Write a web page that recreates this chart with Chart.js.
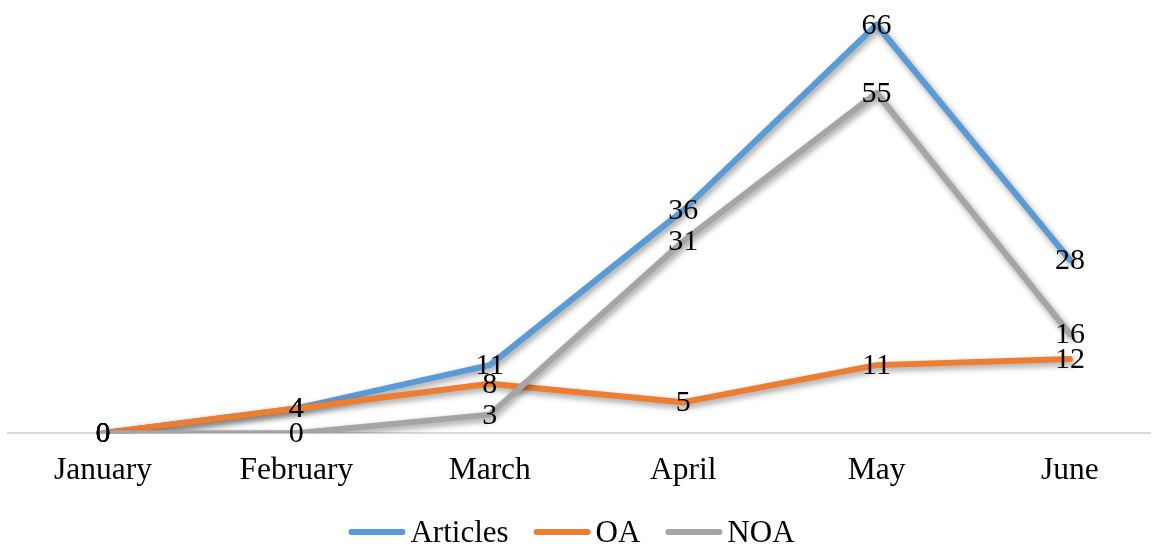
<!DOCTYPE html>
<html>
<head>
<meta charset="utf-8">
<script src="https://cdn.jsdelivr.net/npm/chart.js@4/dist/chart.umd.min.js"></script>
<style>
html,body{margin:0;padding:0;background:#fff;}
#wrap{width:1153px;height:544px;position:relative;}
</style>
</head>
<body>
<div id="wrap"><canvas id="c" width="1153" height="544"></canvas></div>
<script>
const categories = ['January', 'February', 'March', 'April', 'May', 'June'];
const articles = [0, 4, 11, 36, 66, 28];
const oa = [0, 4, 8, 5, 11, 12];
const noa = [0, 0, 3, 31, 55, 16];
const seriesNames = ['Articles', 'OA', 'NOA'];
const colors = ['#5B9BD5', '#ED7D31', '#A5A5A5'];

const FONT = "'Liberation Serif', 'Times New Roman', serif";

const shadowPlugin = {
  id: 'shadow',
  beforeDatasetDraw(chart) {
    const ctx = chart.ctx;
    ctx.save();
    ctx.shadowColor = 'rgba(0,0,0,0.4)';
    ctx.shadowBlur = 6;
    ctx.shadowOffsetX = 2;
    ctx.shadowOffsetY = 3;
  },
  afterDatasetDraw(chart) {
    chart.ctx.restore();
  }
};

const labelPlugin = {
  id: 'valueLabels',
  afterDatasetsDraw(chart) {
    const ctx = chart.ctx;
    ctx.save();
    ctx.font = '30px ' + FONT;
    ctx.fillStyle = '#000';
    ctx.textAlign = 'center';
    ctx.textBaseline = 'middle';
    chart.data.datasets.forEach((ds, di) => {
      const meta = chart.getDatasetMeta(di);
      meta.data.forEach((pt, i) => {
        ctx.fillText(String(ds.data[i].y), pt.x, pt.y + 1);
      });
    });
    ctx.restore();
  }
};

// Custom bottom legend (line sample directly followed by text, like the source)
const legendPlugin = {
  id: 'lineLegend',
  afterDraw(chart) {
    const ctx = chart.ctx;
    ctx.save();
    ctx.font = '31px ' + FONT;
    const lineLen = 57, gapText = 5, gapItem = 25;
    const items = chart.data.datasets.map(ds => ({ text: ds.label, color: ds.borderColor, w: ctx.measureText(ds.label).width }));
    const total = items.reduce((s, it) => s + lineLen + gapText + it.w, 0) + gapItem * (items.length - 1);
    let x = chart.width / 2 - 5 - total / 2;
    const y = 532;
    items.forEach(it => {
      ctx.strokeStyle = it.color;
      ctx.lineWidth = 6;
      ctx.lineCap = 'round';
      ctx.beginPath();
      ctx.moveTo(x + 3, y);
      ctx.lineTo(x + lineLen - 3, y);
      ctx.stroke();
      x += lineLen + gapText;
      ctx.fillStyle = '#000';
      ctx.textAlign = 'left';
      ctx.textBaseline = 'alphabetic';
      ctx.fillText(it.text, x, y + 10);
      x += it.w + gapItem;
    });
    ctx.restore();
  }
};

const toPts = arr => arr.map((v, i) => ({ x: i, y: v }));
const seriesData = [articles, oa, noa];

new Chart(document.getElementById('c'), {
  type: 'line',
  data: {
    datasets: seriesData.map((arr, k) => ({
      label: seriesNames[k],
      data: toPts(arr),
      borderColor: colors[k],
      backgroundColor: colors[k],
      borderWidth: 6,
      borderCapStyle: 'round',
      borderJoinStyle: 'round',
      pointRadius: 0,
      tension: 0,
      order: 3 - k
    }))
  },
  options: {
    responsive: false,
    animation: false,
    layout: { padding: { left: 8, right: 3, top: 0, bottom: 35 } },
    scales: {
      x: {
        type: 'linear',
        min: -0.491,
        max: 5.414,
        afterBuildTicks(scale) {
          scale.ticks = categories.map((c, i) => ({ value: i }));
        },
        ticks: {
          callback: v => categories[v],
          font: { family: FONT, size: 31.5 },
          color: '#000',
          padding: 19,
          maxRotation: 0,
          autoSkip: false
        },
        grid: { display: false, drawTicks: false },
        border: { display: true, color: '#D9D9D9', width: 2 }
      },
      y: {
        display: false,
        min: 0,
        max: 70
      }
    },
    plugins: {
      legend: { display: false },
      tooltip: { enabled: false }
    }
  },
  plugins: [shadowPlugin, labelPlugin, legendPlugin]
});
</script>
</body>
</html>
